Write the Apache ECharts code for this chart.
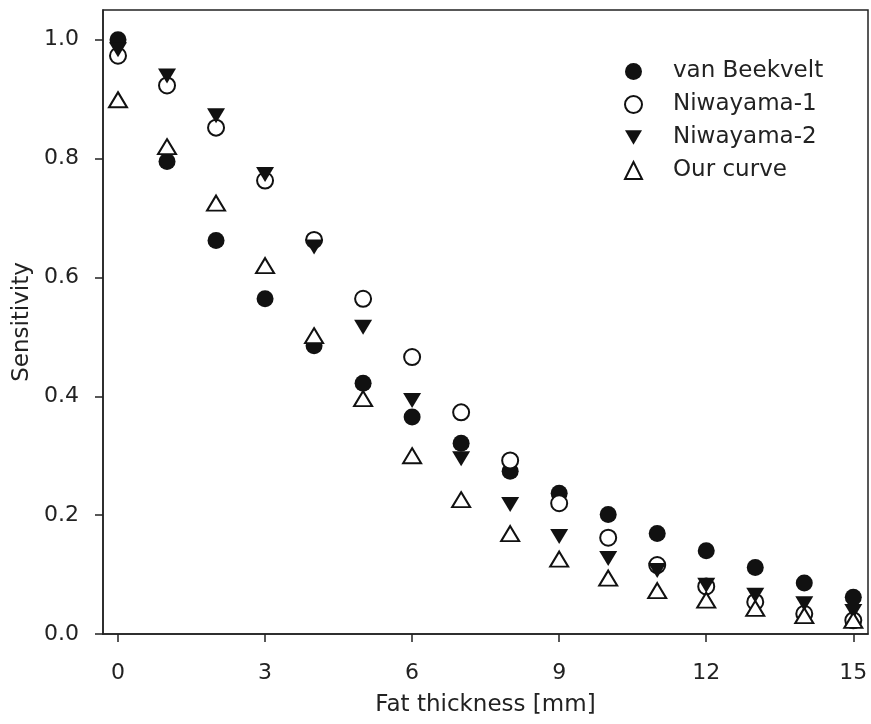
<!DOCTYPE html>
<html><head><meta charset="utf-8">
<script src="https://cdn.jsdelivr.net/npm/echarts@6/dist/echarts.min.js"></script>
<style>html,body{margin:0;padding:0;background:#fff}#c{width:871px;height:724px}</style>
</head><body><div id="c"></div>
<script>
const thickness = [0,1,2,3,4,5,6,7,8,9,10,11,12,13,14,15];
const vanBeekvelt = [1.000,0.795,0.662,0.564,0.485,0.422,0.365,0.321,0.274,0.237,0.201,0.169,0.140,0.112,0.086,0.062];
const niwayama1 = [0.973,0.923,0.852,0.763,0.663,0.564,0.466,0.373,0.292,0.220,0.162,0.116,0.080,0.054,0.034,0.023];
const niwayama2 = [0.983,0.939,0.872,0.773,0.651,0.516,0.393,0.295,0.218,0.164,0.127,0.107,0.082,0.065,0.051,0.038];
const ourCurve = [0.899,0.820,0.725,0.620,0.502,0.396,0.300,0.226,0.169,0.126,0.094,0.073,0.057,0.043,0.031,0.023];
const xTicks = [0,3,6,9,12,15];
const yTicks = [0,0.2,0.4,0.6,0.8,1.0];
const seriesNames = ['van Beekvelt','Niwayama-1','Niwayama-2','Our curve'];

const font = 'DejaVu Sans';
const ink = '#222';
const pair = arr => thickness.map((x,i)=>[x,arr[i]]);
const downTri = 'path://M0,0 L20,0 L10,17 Z';

const chart = echarts.init(document.getElementById('c'), null, {renderer:'canvas'});
chart.setOption({
  animation:false,
  backgroundColor:'#fff',
  grid:{left:103,top:10,right:3,bottom:90,show:true,borderColor:ink,borderWidth:1.5,backgroundColor:'transparent'},
  legend:{
    orient:'vertical', left:619, top:55, itemWidth:17, itemHeight:17, itemGap:10,
    data:seriesNames,
    textStyle:{fontFamily:font,fontSize:23,color:ink,padding:[0,0,0,26]}
  },
  xAxis:{
    type:'value', min:-0.306, max:15.3,
    name:'Fat thickness [mm]', nameLocation:'middle', nameGap:60,
    nameTextStyle:{fontFamily:font,fontSize:23,color:ink},
    axisLine:{onZero:false,lineStyle:{color:ink,width:1.5}},
    axisTick:{show:true,length:8,customValues:xTicks,lineStyle:{color:ink,width:1.5}},
    axisLabel:{customValues:xTicks,margin:28,fontFamily:font,fontSize:22,color:ink,formatter:v=>String(v)},
    splitLine:{show:false}
  },
  yAxis:{
    type:'value', min:0, max:1.05,
    name:'Sensitivity', nameLocation:'middle', nameGap:66, nameRotate:90,
    nameTextStyle:{fontFamily:font,fontSize:23,color:ink},
    axisLine:{onZero:false,lineStyle:{color:ink,width:1.5}},
    axisTick:{show:true,length:8,customValues:yTicks,lineStyle:{color:ink,width:1.5}},
    axisLabel:{customValues:yTicks,margin:24,fontFamily:font,fontSize:22,color:ink,formatter:v=>v.toFixed(1)},
    splitLine:{show:false}
  },
  series:[
    {name:seriesNames[0],type:'scatter',data:pair(vanBeekvelt),symbol:'circle',symbolSize:17,
     itemStyle:{color:'#111',borderColor:'#111',borderWidth:0,opacity:1}},
    {name:seriesNames[1],type:'scatter',data:pair(niwayama1),symbol:'circle',symbolSize:16,
     itemStyle:{color:'#fff',borderColor:'#111',borderWidth:2,opacity:1}},
    {name:seriesNames[2],type:'scatter',data:pair(niwayama2),symbol:downTri,symbolSize:[18,15],
     itemStyle:{color:'#111',borderColor:'#111',borderWidth:0,opacity:1}},
    {name:seriesNames[3],type:'scatter',data:pair(ourCurve),symbol:'triangle',symbolSize:[18,15],
     itemStyle:{color:'#fff',borderColor:'#111',borderWidth:2,opacity:1}}
  ]
});
</script></body></html>
